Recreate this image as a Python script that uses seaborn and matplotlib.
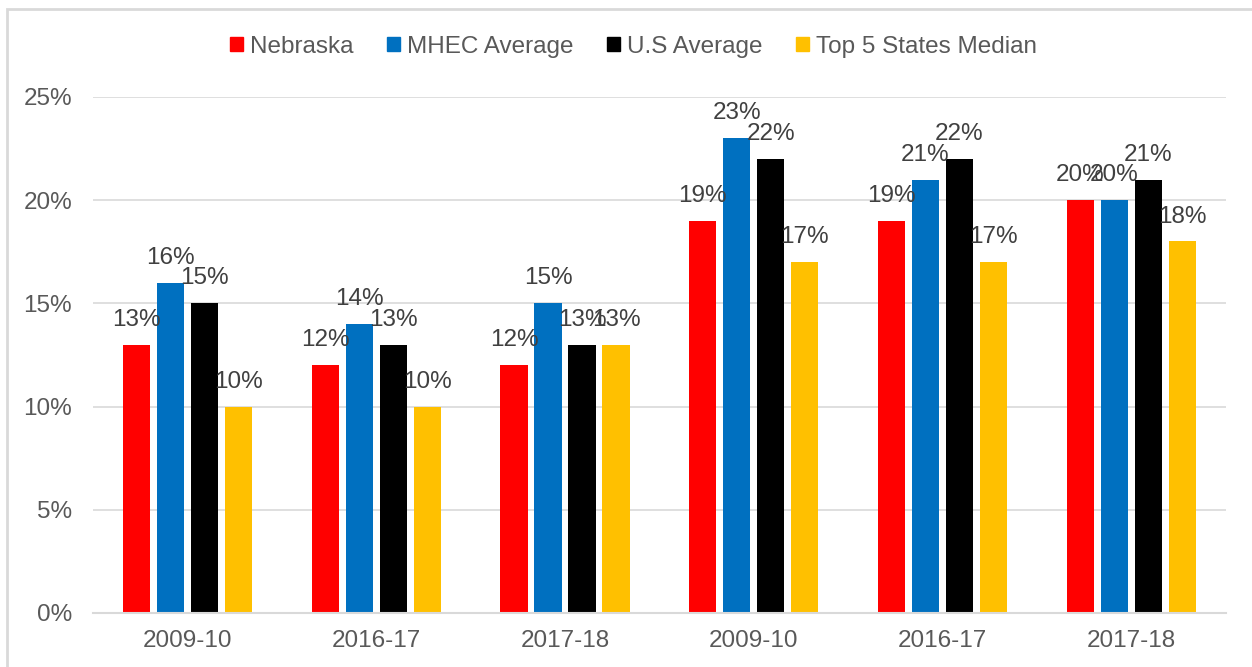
import matplotlib
matplotlib.use('Agg')
import matplotlib.pyplot as plt
from matplotlib.patches import Rectangle
from matplotlib.ticker import PercentFormatter
import seaborn as sns
import pandas as pd

groups = ['2009-10', '2016-17', '2017-18', '2009-10', '2016-17', '2017-18']
series = ['Nebraska', 'MHEC Average', 'U.S Average', 'Top 5 States Median']
nebraska = [13, 12, 12, 19, 19, 20]
mhec = [16, 14, 15, 23, 21, 20]
us_avg = [15, 13, 13, 22, 22, 21]
top5 = [10, 10, 13, 17, 17, 18]
colors = ['#FF0000', '#0070C0', '#000000', '#FFC000']

rows = []
for name, vals in zip(series, [nebraska, mhec, us_avg, top5]):
    for i, v in enumerate(vals):
        rows.append({'group': i, 'series': name, 'value': v})
df = pd.DataFrame(rows)

sns.set_style('white')
plt.rcParams['font.family'] = ['Liberation Sans', 'DejaVu Sans']

fig = plt.figure(figsize=(12.52, 6.67), dpi=100)
ax = fig.add_axes([0.0743, 0.081, 0.9047, 0.7736])

sns.barplot(data=df, x='group', y='value', hue='series', hue_order=series,
            palette=colors, saturation=1, width=0.72, gap=0.2, ax=ax, legend=False,
            linewidth=0, errorbar=None)

for cont in ax.containers:
    ax.bar_label(cont, labels=[f'{int(v)}%' for v in cont.datavalues],
                 padding=10, fontsize=17.5, color='#404040')

ax.set_ylim(0, 25)
ax.set_yticks([0, 5, 10, 15, 20, 25])
ax.yaxis.set_major_formatter(PercentFormatter(decimals=0))
ax.set_xlim(-0.5, 5.5)
ax.set_xticks(range(len(groups)))
ax.set_xticklabels(groups)
ax.set_xlabel('')
ax.set_ylabel('')
ax.tick_params(axis='both', length=0, labelsize=17.5, labelcolor='#595959')
ax.tick_params(axis='y', pad=15)
ax.tick_params(axis='x', pad=12)
ax.grid(axis='y', color='#D9D9D9', linewidth=1.2)
ax.set_axisbelow(True)
for s in ['top', 'right', 'left']:
    ax.spines[s].set_visible(False)
ax.spines['bottom'].set_color('#D9D9D9')
ax.spines['bottom'].set_linewidth(1.5)

handles = [Rectangle((0, 0), 1, 1, color=c) for c in colors]
fig.legend(handles, series, loc='center', bbox_to_anchor=(0.506, 0.93), ncol=4,
           frameon=False, fontsize=17.5, labelcolor='#595959',
           handlelength=0.55, handleheight=0.55, handletextpad=0.3, columnspacing=1.35)

fig.patches.append(Rectangle((7 / 1252, -0.1), 1.2, 1.1 - 9 / 667, transform=fig.transFigure,
                             fill=False, edgecolor='#D9D9D9', linewidth=2))

fig.savefig('out.png', dpi=100)
